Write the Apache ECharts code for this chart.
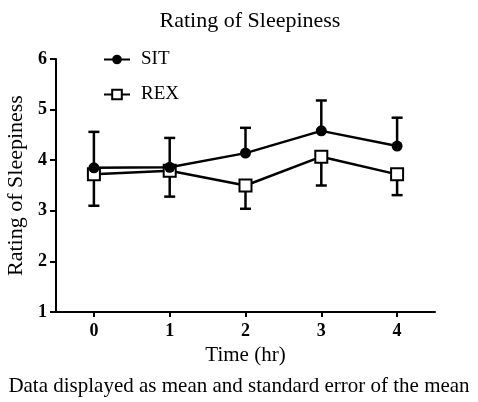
<!DOCTYPE html>
<html><head><meta charset="utf-8">
<script src="https://cdn.jsdelivr.net/npm/echarts@6/dist/echarts.min.js"></script>
<style>html,body{margin:0;padding:0;background:#fff}#c{width:478px;height:402px}</style>
</head><body><div id="c"></div>
<script>
var times = ['0', '1', '2', '3', '4'];
var sitMean = [3.85, 3.86, 4.14, 4.58, 4.28];
var sitSEM = [0.71, 0.58, 0.50, 0.60, 0.56];
var rexMean = [3.72, 3.79, 3.50, 4.07, 3.72];
var rexSEM = [0.62, 0.51, 0.46, 0.57, 0.41];
var yTicks = [1, 2, 3, 4, 5, 6];

var F = '"Liberation Serif", "Times New Roman", serif';
function errData(m, s, dir){ return times.map(function(t,i){ return [i, m[i], m[i] + dir*s[i]]; }); }
function errRender(params, api){
  var p0 = api.coord([api.value(0), api.value(1)]);
  var p1 = api.coord([api.value(0), api.value(2)]);
  var w = 5.5;
  var st = {stroke:'#000', lineWidth:2.5, fill:null};
  return {type:'group', children:[
    {type:'line', shape:{x1:p0[0],y1:p0[1],x2:p1[0],y2:p1[1]}, style:st},
    {type:'line', shape:{x1:p1[0]-w,y1:p1[1],x2:p1[0]+w,y2:p1[1]}, style:st}
  ]};
}
var chart = echarts.init(document.getElementById('c'), null, {renderer:'canvas'});
chart.setOption({
  animation:false,
  title:{text:'Rating of Sleepiness', left:245, textAlign:'center', top:5,
    textStyle:{fontFamily:F, fontSize:22, fontWeight:'normal', color:'#000'}},
  legend:{orient:'vertical', left:98, top:45, itemGap:16, itemWidth:26, itemHeight:12,
    textStyle:{fontFamily:F, fontSize:19, color:'#000', padding:[0,0,0,6]},
    data:['SIT','REX']},
  grid:{left:56, right:43, top:59, bottom:90, containLabel:false, outerBoundsMode:'none'},
  xAxis:{type:'category', data:times, boundaryGap:true,
    name:'Time (hr)', nameLocation:'middle', nameGap:32,
    nameTextStyle:{fontFamily:F, fontSize:21, color:'#000'},
    axisLine:{onZero:false, lineStyle:{color:'#000', width:2}},
    axisTick:{show:true, alignWithLabel:true, length:5, lineStyle:{color:'#000', width:2}},
    axisLabel:{fontFamily:F, fontSize:18, fontWeight:'bold', color:'#000', margin:10},
    splitLine:{show:false}},
  yAxis:{type:'value', min:yTicks[0], max:yTicks[yTicks.length-1], interval:1,
    name:'Rating of Sleepiness', nameLocation:'middle', nameGap:26,
    nameTextStyle:{fontFamily:F, fontSize:22, color:'#000'},
    axisLine:{show:true, onZero:false, lineStyle:{color:'#000', width:2}},
    axisTick:{show:true, length:6, lineStyle:{color:'#000', width:2}},
    axisLabel:{fontFamily:F, fontSize:18, fontWeight:'bold', color:'#000', margin:9},
    splitLine:{show:false}},
  series:[
    {type:'custom', name:'sitErr', renderItem:errRender, data:errData(sitMean, sitSEM, 1), z:1, silent:true},
    {type:'custom', name:'rexErr', renderItem:errRender, data:errData(rexMean, rexSEM, -1), z:1, silent:true},
    {type:'line', name:'REX', data:rexMean, symbol:'rect', symbolSize:12,
      lineStyle:{color:'#000', width:2.5}, itemStyle:{color:'#fff', borderColor:'#000', borderWidth:2}, z:3},
    {type:'line', name:'SIT', data:sitMean, symbol:'circle', symbolSize:11,
      lineStyle:{color:'#000', width:2.5}, itemStyle:{color:'#000', borderColor:'#000', borderWidth:0}, z:4}
  ],
  graphic:[{type:'text', left:'center', top:376,
    style:{text:'Data displayed as mean and standard error of the mean', fontFamily:F, fontSize:21, fill:'#000'}}]
});
</script></body></html>
